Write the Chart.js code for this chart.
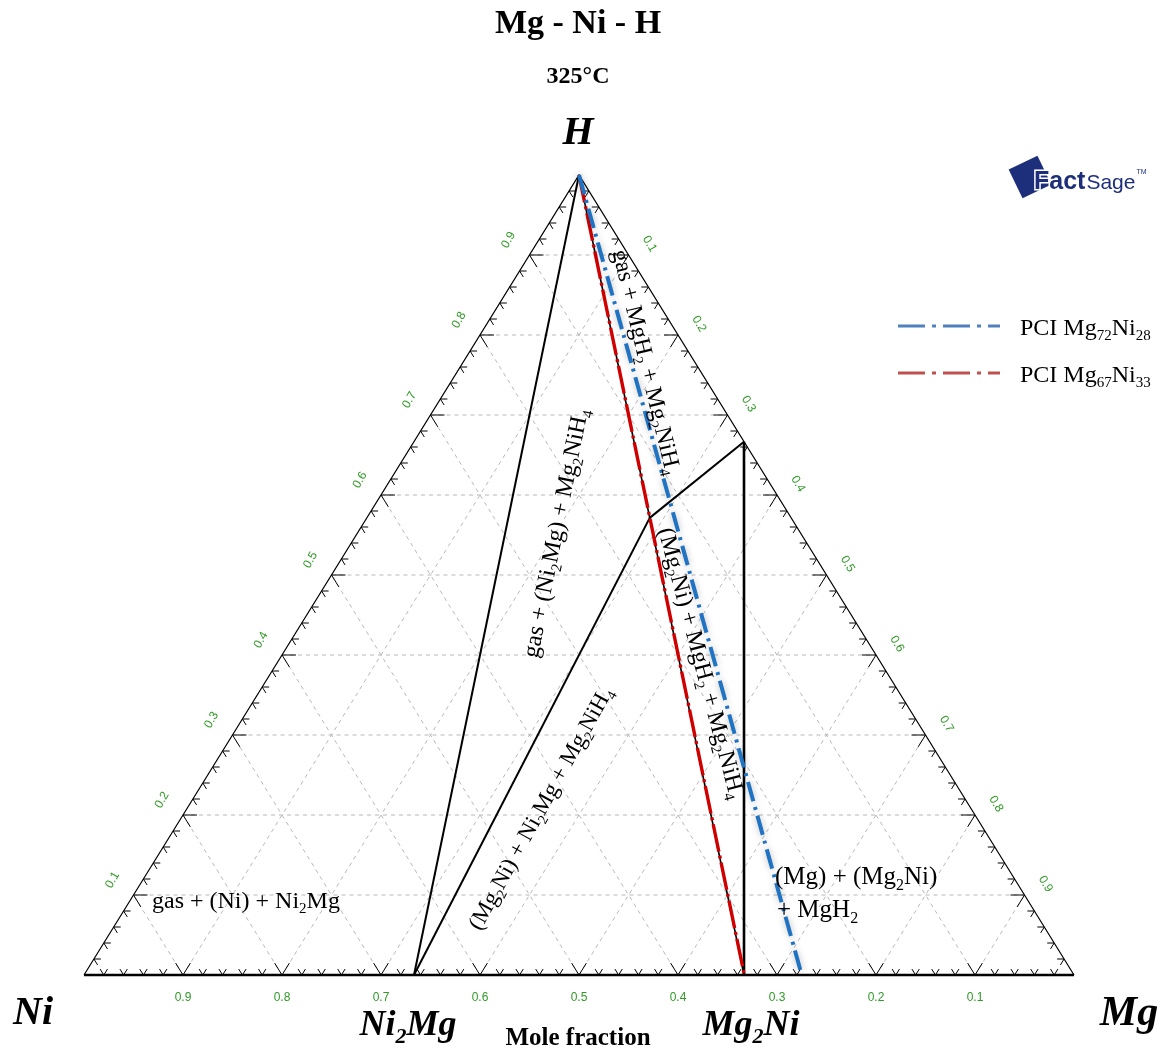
<!DOCTYPE html>
<html>
<head>
<meta charset="utf-8">
<script src="https://cdn.jsdelivr.net/npm/chart.js@4.4.1/dist/chart.umd.min.js"></script>
<style>
html,body{margin:0;padding:0;background:#fff;}
canvas{display:block;}
</style>
</head>
<body>
<canvas id="c" width="1168" height="1053"></canvas>
<script>
// ---- data (compositions as [xMg, xH]; xNi = 1 - xMg - xH) ----
const vertexNi = [0, 0];
const vertexMg = [1, 0];
const vertexH = [0, 1];
const ptNi2Mg = [1/3, 0];
const ptMg2Ni = [2/3, 0];
const ptMgH2 = [1/3, 2/3];
const ptMg2NiH4 = [2/7, 4/7];
const boundaryLines = [
  [vertexH, ptNi2Mg],
  [ptNi2Mg, ptMg2NiH4],
  [ptMg2NiH4, ptMgH2],
  [ptMgH2, ptMg2Ni],
  [vertexH, ptMg2Ni]
];
const pciMg72Ni28 = [[0, 1], [0.725, 0]];
const pciMg67Ni33 = [[0, 1], [0.667, 0]];
const gridFractions = [0.1, 0.2, 0.3, 0.4, 0.5, 0.6, 0.7, 0.8, 0.9];
const gridLabels = ['0.1', '0.2', '0.3', '0.4', '0.5', '0.6', '0.7', '0.8', '0.9'];
const minorStep = 0.02;

// ternary -> cartesian (data space)
const toXY = (c) => ({ x: c[0] + c[1] / 2, y: c[1] });

const SERIF = '"Liberation Serif", "DejaVu Serif", serif';
const SANS = '"Liberation Sans", Arial, sans-serif';

function lineDs(pts, color, width, dash) {
  return {
    data: pts.map(toXY), showLine: true, pointRadius: 0, borderColor: color,
    borderWidth: width, borderDash: dash || [], fill: false, clip: false, tension: 0
  };
}

// Chart.js paints the first dataset on top, so the PCI lines come first
const datasets = [];
const blueIndex = 0;
datasets.push(lineDs(pciMg72Ni28, '#1f73c2', 4, [20, 6, 3, 6]));
datasets.push(lineDs(pciMg67Ni33, '#d00000', 3.4, [28, 4, 3, 4]));
boundaryLines.forEach((seg, i) => {
  datasets.push(lineDs(seg, '#000', i === 3 ? 2.6 : (i === 4 ? 1.6 : 2)));
});
datasets.push(lineDs([vertexNi, vertexMg], '#000', 2.4));
datasets.push(lineDs([vertexNi, vertexH, vertexMg], '#000', 1.2));

function drawRich(ctx, segs, cx, cy, angle, size, weight, style, align) {
  ctx.save();
  ctx.translate(cx, cy);
  ctx.rotate(angle * Math.PI / 180);
  const fontFor = (sub) => `${style || 'normal'} ${weight || 'normal'} ${sub ? Math.round(size * 0.62) : size}px ${SERIF}`;
  let total = 0;
  const widths = segs.map(s => { ctx.font = fontFor(s[1]); const w = ctx.measureText(s[0]).width; total += w; return w; });
  let x = align === 'left' ? 0 : -total / 2;
  ctx.textBaseline = 'alphabetic';
  ctx.textAlign = 'left';
  ctx.fillStyle = '#000';
  const base = size * 0.33;
  segs.forEach((s, i) => {
    ctx.font = fontFor(s[1]);
    ctx.fillText(s[0], x, base + (s[1] ? size * 0.22 : 0));
    x += widths[i];
  });
  ctx.restore();
}

const gridPlugin = {
  id: 'ternaryGrid',
  beforeDatasetsDraw(chart) {
    const ctx = chart.ctx, xs = chart.scales.x, ys = chart.scales.y;
    const P = (c) => { const p = toXY(c); return [xs.getPixelForValue(p.x), ys.getPixelForValue(p.y)]; };
    ctx.save();
    ctx.strokeStyle = '#b8b8b8';
    ctx.lineWidth = 1;
    ctx.setLineDash([4, 4]);
    gridFractions.forEach(t => {
      const segs = [
        [[0, t], [1 - t, t]],           // constant H
        [[t, 0], [t, 1 - t]],           // constant Mg
        [[1 - t, 0], [0, 1 - t]]        // constant Ni
      ];
      segs.forEach(s => {
        const a = P(s[0]), b = P(s[1]);
        ctx.beginPath(); ctx.moveTo(a[0], a[1]); ctx.lineTo(b[0], b[1]); ctx.stroke();
      });
    });
    ctx.setLineDash([]);
    // ticks
    ctx.strokeStyle = '#000';
    ctx.lineWidth = 1;
    const dirPx = (d) => {
      const x0 = xs.getPixelForValue(0), y0 = ys.getPixelForValue(0);
      const dx = xs.getPixelForValue(d[0]) - x0, dy = ys.getPixelForValue(d[1]) - y0;
      const n = Math.hypot(dx, dy); return [dx / n, dy / n];
    };
    const edges = [
      { pt: (t) => [t, 0], dirs: [[0.5, 1], [-0.5, 1]] },          // bottom
      { pt: (t) => [0, t], dirs: [[1, 0], [0.5, -1]] },            // left (Mg=0)
      { pt: (t) => [t, 1 - t], dirs: [[-1, 0], [-0.5, -1]] }       // right (Ni=0)
    ];
    const nSteps = Math.round(1 / minorStep);
    edges.forEach(e => {
      const dp = e.dirs.map(dirPx);
      for (let k = 1; k < nSteps; k++) {
        const t = k * minorStep;
        const major = k % 5 === 0;
        const len = major ? 14 : 7;
        const p = P(e.pt(t));
        dp.forEach(d => {
          ctx.beginPath(); ctx.moveTo(p[0], p[1]); ctx.lineTo(p[0] + d[0] * len, p[1] + d[1] * len); ctx.stroke();
        });
      }
    });
    ctx.restore();
  },
  beforeDatasetDraw(chart, args) {
    if (args.index === blueIndex) {
      chart.ctx.save();
      chart.ctx.shadowColor = 'rgba(0,0,0,0.28)';
      chart.ctx.shadowBlur = 7;
    }
  },
  afterDatasetDraw(chart, args) {
    if (args.index === blueIndex) chart.ctx.restore();
  },
  afterDraw(chart) {
    const ctx = chart.ctx, xs = chart.scales.x, ys = chart.scales.y;
    const P = (c) => { const p = toXY(c); return [xs.getPixelForValue(p.x), ys.getPixelForValue(p.y)]; };
    ctx.save();
    // green axis labels
    ctx.fillStyle = '#2f9a25';
    ctx.font = `12px ${SANS}`;
    ctx.textAlign = 'center';
    ctx.textBaseline = 'middle';
    gridFractions.forEach((t, i) => {
      // bottom: Ni fraction
      let p = P([1 - t, 0]);
      ctx.fillText(gridLabels[i], p[0], p[1] + 23);
      // left: H fraction
      p = P([0, t]);
      ctx.save(); ctx.translate(p[0] - 21, p[1] - 15); ctx.rotate(-Math.PI / 3); ctx.fillText(gridLabels[i], 0, 0); ctx.restore();
      // right: Mg fraction
      p = P([t, 1 - t]);
      ctx.save(); ctx.translate(p[0] + 21, p[1] - 11); ctx.rotate(Math.PI / 3); ctx.fillText(gridLabels[i], 0, 0); ctx.restore();
    });
    ctx.restore();

    // titles
    drawRich(ctx, [['Mg - Ni - H', 0]], 578, 22, 0, 34, 'bold');
    drawRich(ctx, [['325°C', 0]], 578, 75, 0, 24, 'bold');
    drawRich(ctx, [['H', 0]], 578, 131, 0, 40, 'bold', 'italic');
    drawRich(ctx, [['Ni', 0]], 33, 1011, 0, 40, 'bold', 'italic');
    drawRich(ctx, [['Mg', 0]], 1129, 1011, 0, 42, 'bold', 'italic');
    drawRich(ctx, [['Ni', 0], ['2', 1], ['Mg', 0]], 408, 1023, 0, 36, 'bold', 'italic');
    drawRich(ctx, [['Mg', 0], ['2', 1], ['Ni', 0]], 751, 1023, 0, 36, 'bold', 'italic');
    drawRich(ctx, [['Mole fraction', 0]], 578, 1037, 0, 25, 'bold');

    // region labels
    const LS = 24;
    drawRich(ctx, [['gas + (Ni) + Ni', 0], ['2', 1], ['Mg', 0]], 152, 900, 0, LS, 'normal', 'normal', 'left');
    drawRich(ctx, [['gas + (Ni', 0], ['2', 1], ['Mg) + Mg', 0], ['2', 1], ['NiH', 0], ['4', 1]], 555, 533, -78.5, LS);
    drawRich(ctx, [['(Mg', 0], ['2', 1], ['Ni) + Ni', 0], ['2', 1], ['Mg + Mg', 0], ['2', 1], ['NiH', 0], ['4', 1]], 540, 808, -61, 23);
    drawRich(ctx, [['gas + MgH', 0], ['2', 1], [' + Mg', 0], ['2', 1], ['NiH', 0], ['4', 1]], 647, 362, 76.5, LS);
    drawRich(ctx, [['(Mg', 0], ['2', 1], ['Ni) + MgH', 0], ['2', 1], [' + Mg', 0], ['2', 1], ['NiH', 0], ['4', 1]], 702, 663, 75, LS);
    drawRich(ctx, [['(Mg) + (Mg', 0], ['2', 1], ['Ni)', 0]], 775, 876, 0, 25, 'normal', 'normal', 'left');
    drawRich(ctx, [['+ MgH', 0], ['2', 1]], 777, 909, 0, 25, 'normal', 'normal', 'left');

    // legend
    ctx.save();
    ctx.lineWidth = 3;
    ctx.setLineDash([27, 7, 4, 7]);
    ctx.strokeStyle = '#4f81bd';
    ctx.beginPath(); ctx.moveTo(898, 326); ctx.lineTo(1000, 326); ctx.stroke();
    ctx.strokeStyle = '#c0504d';
    ctx.beginPath(); ctx.moveTo(898, 373); ctx.lineTo(1000, 373); ctx.stroke();
    ctx.restore();
    drawRich(ctx, [['PCI Mg', 0], ['72', 1], ['Ni', 0], ['28', 1]], 1020, 327, 0, 24, 'normal', 'normal', 'left');
    drawRich(ctx, [['PCI Mg', 0], ['67', 1], ['Ni', 0], ['33', 1]], 1020, 374, 0, 24, 'normal', 'normal', 'left');

    // FactSage logo
    ctx.save();
    ctx.translate(1030, 177);
    ctx.rotate(-Math.PI / 7);
    ctx.fillStyle = '#1d2f7a';
    ctx.fillRect(-16, -16, 32, 32);
    ctx.restore();
    ctx.save();
    ctx.textBaseline = 'alphabetic';
    ctx.font = `bold 25px ${SANS}`;
    ctx.lineWidth = 3;
    ctx.strokeStyle = '#fff';
    ctx.fillStyle = '#1d2f7a';
    ctx.strokeText('Fact', 1034, 189);
    ctx.fillText('Fact', 1034, 189);
    const fw = ctx.measureText('Fact').width;
    ctx.font = `21px ${SANS}`;
    ctx.fillText('Sage', 1034 + fw + 1, 189);
    const sw = ctx.measureText('Sage').width;
    ctx.font = `7px ${SANS}`;
    ctx.fillText('TM', 1034 + fw + sw + 2, 174);
    ctx.restore();
  }
};

new Chart(document.getElementById('c').getContext('2d'), {
  type: 'scatter',
  data: { datasets },
  options: {
    responsive: false,
    animation: false,
    devicePixelRatio: 1,
    layout: { padding: { left: 84, right: 94, top: 175, bottom: 78 } },
    scales: {
      x: { type: 'linear', min: 0, max: 1, display: false },
      y: { type: 'linear', min: 0, max: 1, display: false }
    },
    plugins: { legend: { display: false }, tooltip: { enabled: false } },
    events: []
  },
  plugins: [gridPlugin]
});
</script>
</body>
</html>
